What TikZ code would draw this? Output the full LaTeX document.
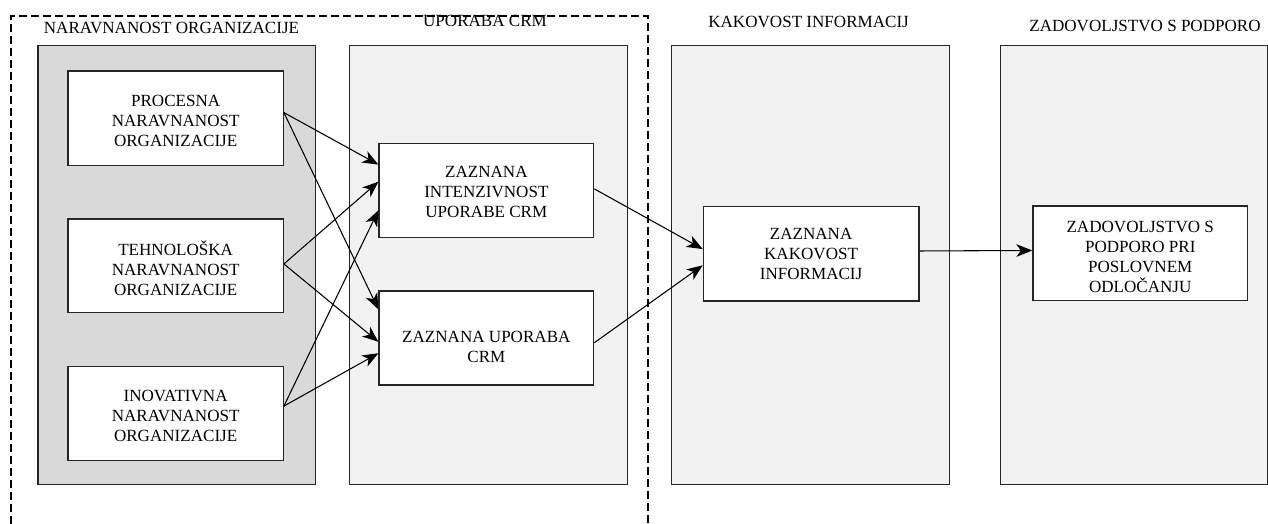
\documentclass[tikz,border=0pt]{standalone}
\usepackage{fontspec}
\setmainfont{Liberation Serif}
\usetikzlibrary{arrows.meta,fit,calc}
\definecolor{groupdark}{HTML}{D9D9D9}
\definecolor{grouplight}{HTML}{F2F2F2}
\tikzset{
  grp/.style={draw=black!85, line width=0.9pt, inner sep=0pt},
  box/.style={draw=black!85, line width=0.9pt, fill=white, inner sep=0pt},
  ttl/.style={font=\fontsize{12.8}{15}\selectfont, inner sep=0pt, align=center},
  conn/.style={line width=0.8pt, -{Stealth[length=12pt,width=9.5pt,inset=3.5pt]}},
  frame/.style={line width=0.9pt, dash pattern=on 6pt off 3pt}
}
\begin{document}
\begin{tikzpicture}[x=0.75pt,y=-0.75pt]
\useasboundingbox (0,0) rectangle (1268,524);
% dashed frame
\coordinate (fa) at (11,524);
\coordinate (fb) at (11,16);
\coordinate (fc) at (648,16);
\coordinate (fd) at (648,524);
\draw[frame] (fa) -- (fb) -- (fc) -- (fd);
% groups
\node[grp, fill=groupdark, fit={(38,45.7)(315.7,484.5)}] (g1) {};
\node[grp, fill=grouplight, fit={(349.3,45.7)(627.7,484.5)}] (g2) {};
\node[grp, fill=grouplight, fit={(671.7,45.7)(949.5,484.5)}] (g3) {};
\node[grp, fill=grouplight, fit={(1000.3,45.7)(1267.4,484.5)}] (g4) {};
% titles
\node[ttl] (t1) at (171.5,28) {NARAVNANOST ORGANIZACIJE};
\node[ttl] (t2) at (485,21) {UPORABA CRM};
\node[ttl] (t3) at (808.6,22) {KAKOVOST INFORMACIJ};
\node[ttl] (t4) at (1145,26) {ZADOVOLJSTVO S PODPORO};
% boxes
\node[box, fit={(68,71)(283.3,165.7)}] (p) {};
\node[ttl] (pt) at ($(p.center)+(0,2.5)$) {PROCESNA\\NARAVNANOST\\ORGANIZACIJE};
\node[box, fit={(68,219)(283.3,312.7)}] (t) {};
\node[ttl] (tt) at ($(t.center)+(0,2.5)$) {TEHNOLOŠKA\\NARAVNANOST\\ORGANIZACIJE};
\node[box, fit={(68,366.7)(283.3,460.7)}] (i) {};
\node[ttl] (it) at ($(i.center)+(0,2.5)$) {INOVATIVNA\\NARAVNANOST\\ORGANIZACIJE};
\node[box, fit={(379,143.3)(593.7,237.3)}] (zi) {};
\node[ttl] (zit) at ($(zi.center)+(0,2)$) {ZAZNANA\\INTENZIVNOST\\UPORABE CRM};
\node[box, fit={(379,291)(593.7,385)}] (zu) {};
\node[ttl] (zut) at ($(zu.center)+(0,9)$) {ZAZNANA UPORABA\\CRM};
\node[box, fit={(703.3,206.7)(918.9,301)}] (k) {};
\node[ttl] (kt) at ($(k.center)+(0,0.5)$) {ZAZNANA\\KAKOVOST\\INFORMACIJ};
\node[box, fit={(1032.9,206)(1247.6,300.7)}] (z) {};
\node[ttl] (zt) at ($(z.center)+(0,4)$) {ZADOVOLJSTVO S\\PODPORO PRI\\POSLOVNEM\\ODLOČANJU};
% connectors
\draw[conn] ($(p.north east)!0.44!(p.south east)$) -- ($(zi.north west)!0.23!(zi.south west)$);
\draw[conn] ($(p.north east)!0.44!(p.south east)$) -- ($(zu.north west)!0.2!(zu.south west)$);
\draw[conn] ($(t.north east)!0.48!(t.south east)$) -- ($(zi.north west)!0.41!(zi.south west)$);
\draw[conn] ($(t.north east)!0.48!(t.south east)$) -- ($(zu.north west)!0.54!(zu.south west)$);
\draw[conn] ($(i.north east)!0.42!(i.south east)$) -- ($(zi.north west)!0.71!(zi.south west)$);
\draw[conn] ($(i.north east)!0.42!(i.south east)$) -- ($(zu.north west)!0.66!(zu.south west)$);
\draw[conn] ($(zi.north east)!0.485!(zi.south east)$) -- ($(k.north west)!0.45!(k.south west)$);
\draw[conn] ($(zu.north east)!0.55!(zu.south east)$) -- ($(k.north west)!0.62!(k.south west)$);
\draw[conn] ($(k.north east)!0.47!(k.south east)$) -- ($(z.north west)!0.47!(z.south west)$);
\end{tikzpicture}
\end{document}
